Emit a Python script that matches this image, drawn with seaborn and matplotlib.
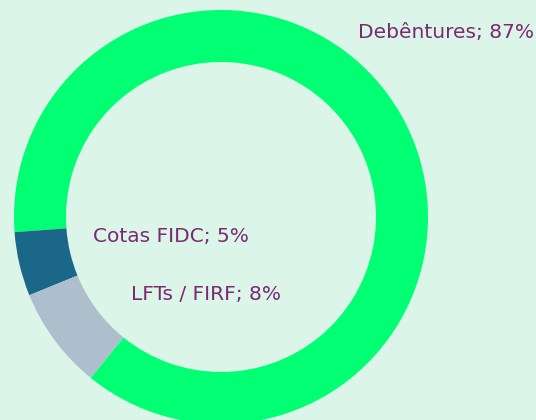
import matplotlib
matplotlib.use("Agg")
import matplotlib.pyplot as plt
import seaborn as sns

categories = ["Debêntures", "Cotas FIDC", "LFTs / FIRF"]
shares = [87, 5, 8]

bg = "#dcf5e9"
colors = ["#00ff73", "#1b678a", "#adbfcc"]
text_color = "#7b2a72"

sns.set_style("white")
plt.rcParams["font.family"] = ["DejaVu Sans"]

fig = plt.figure(figsize=(5.36, 4.20), dpi=100)
fig.patch.set_facecolor(bg)
ax = fig.add_axes([0, 0, 1, 1])
ax.set_facecolor(bg)

# pixel-like coordinates: center at (221, 203), outer radius 207, ring width 52
ax.pie(shares, colors=colors, radius=207, center=(221, 203), startangle=231,
       counterclock=True, wedgeprops=dict(width=52, linewidth=0), frame=False)
ax.set_xlim(0, 536)
ax.set_ylim(0, 420)
ax.set_aspect("equal")
ax.axis("off")

label_pos = [(358, 388), (93, 183), (131, 125)]
for cat, val, (x, y) in zip(categories, shares, label_pos):
    ax.text(x, y, f"{cat}; {val}%", color=text_color, fontsize=14.5,
            ha="left", va="center")

fig.savefig("out.png", dpi=100, facecolor=bg)
